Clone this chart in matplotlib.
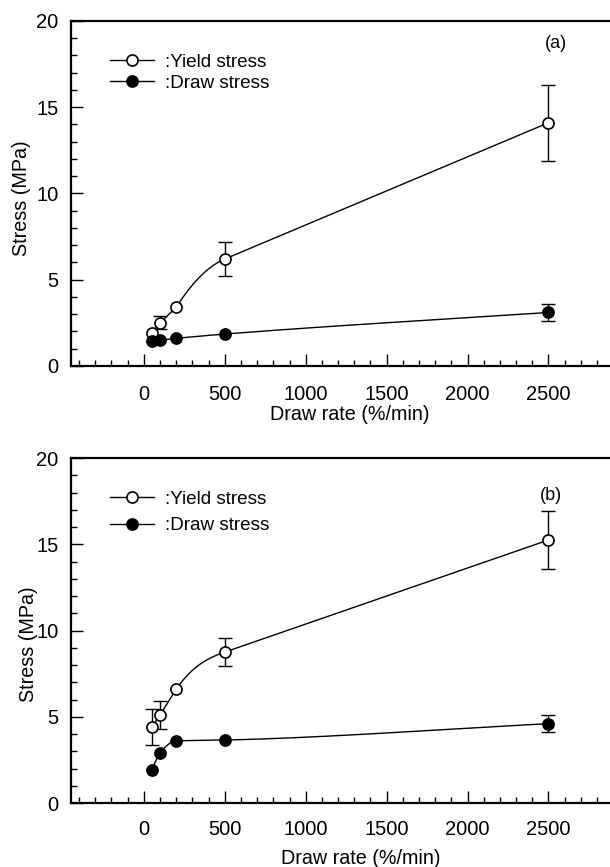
import numpy as np
import matplotlib
matplotlib.use('Agg')
import matplotlib.pyplot as plt
from matplotlib.ticker import MultipleLocator, FixedLocator
from matplotlib.lines import Line2D

plt.rcParams['font.family'] = ['Liberation Sans', 'DejaVu Sans']

# ---- data ----
draw_rate = [50, 100, 200, 500, 2500]
x_ticks = [0, 500, 1000, 1500, 2000, 2500]
y_ticks = [0, 5, 10, 15, 20]

yield_a = [1.9, 2.5, 3.4, 6.2, 14.1]
yield_a_err = [0, 0.38, 0, 1.0, 2.2]
draw_a = [1.45, 1.5, 1.6, 1.85, 3.1]
draw_a_err = [0, 0, 0, 0, 0.48]

yield_b = [4.4, 5.1, 6.6, 8.75, 15.25]
yield_b_err = [1.05, 0.8, 0, 0.8, 1.7]
draw_b = [1.92, 2.92, 3.6, 3.65, 4.6]
draw_b_err = [0, 0, 0, 0, 0.48]

legend_labels = [':Yield stress', ':Draw stress']
panel_tags = ['(a)', '(b)']
xlabel = 'Draw rate (%/min)'
ylabel = 'Stress (MPa)'


def spline_then_line(x, y, n=500):
    """Cubic spline through all but the last point (natural start, end slope
    matched to the final straight segment), then a straight segment."""
    x = np.asarray(x, float); y = np.asarray(y, float)
    xs_, ys_ = x[:-1], y[:-1]
    fp_end = (y[-1] - y[-2]) / (x[-1] - x[-2])
    k = len(xs_); h = np.diff(xs_); d = np.diff(ys_) / h
    A = np.zeros((k, k)); r = np.zeros(k)
    A[0, 0] = 1
    for i in range(1, k - 1):
        A[i, i - 1] = h[i - 1]; A[i, i] = 2 * (h[i - 1] + h[i]); A[i, i + 1] = h[i]
        r[i] = 6 * (d[i] - d[i - 1])
    A[-1, -2] = h[-1]; A[-1, -1] = 2 * h[-1]; r[-1] = 6 * (fp_end - d[-1])
    M = np.linalg.solve(A, r)
    xx = np.linspace(xs_[0], xs_[-1], n)
    idx = np.clip(np.searchsorted(xs_, xx) - 1, 0, k - 2)
    x0, x1 = xs_[idx], xs_[idx + 1]; hh = x1 - x0
    yy = (M[idx] * (x1 - xx) ** 3 / (6 * hh) + M[idx + 1] * (xx - x0) ** 3 / (6 * hh)
          + (ys_[idx] / hh - M[idx] * hh / 6) * (x1 - xx)
          + (ys_[idx + 1] / hh - M[idx + 1] * hh / 6) * (xx - x0))
    return np.append(xx, x[-1]), np.append(yy, y[-1])


def lines_quad_line(x, y, n=200):
    """Straight segments through the first points, a quadratic arc between the
    two points before the last that ends tangent to the final straight segment."""
    x = np.asarray(x, float); y = np.asarray(y, float)
    x0, x1 = x[-3], x[-2]; y0, y1 = y[-3], y[-2]
    h = x1 - x0
    m1 = (y[-1] - y[-2]) / (x[-1] - x[-2])
    m0 = 2 * (y1 - y0) / h - m1
    t = np.linspace(0, 1, n)
    xq = x0 + h * t
    yq = y0 + m0 * h * t + (m1 - m0) * h * t ** 2 / 2
    xs = np.concatenate([x[:-3], xq, x[-1:]])
    ys = np.concatenate([y[:-3], yq, y[-1:]])
    return xs, ys


def pchip(x, y, n=600):
    x = np.asarray(x, float); y = np.asarray(y, float)
    h = np.diff(x); d = np.diff(y) / h
    m = np.zeros_like(y)
    for i in range(1, len(x) - 1):
        if d[i - 1] * d[i] > 0:
            w1 = 2 * h[i] + h[i - 1]; w2 = h[i] + 2 * h[i - 1]
            m[i] = (w1 + w2) / (w1 / d[i - 1] + w2 / d[i])
    m[0] = d[0]; m[-1] = d[-1]
    xs = np.linspace(x[0], x[-1], n)
    idx = np.clip(np.searchsorted(x, xs) - 1, 0, len(x) - 2)
    t = (xs - x[idx]) / h[idx]
    h00 = 2 * t**3 - 3 * t**2 + 1; h10 = t**3 - 2 * t**2 + t
    h01 = -2 * t**3 + 3 * t**2; h11 = t**3 - t**2
    ys = h00 * y[idx] + h10 * h[idx] * m[idx] + h01 * y[idx + 1] + h11 * h[idx] * m[idx + 1]
    return xs, ys


fig = plt.figure(figsize=(6.10, 8.67), dpi=100)
W = 0.8836
axa = fig.add_axes([0.1164, 0.5779, W, 0.3979])
axb = fig.add_axes([0.1164, 0.0738, W, 0.3979])

panels = [
    (axa, yield_a, yield_a_err, draw_a, draw_a_err, 14, (-0.091, 0.487), (0.518, -0.142), (0.90, 0.936), 0.20, panel_tags[0], lines_quad_line),
    (axb, yield_b, yield_b_err, draw_b, draw_b_err, 12, (-0.078, 0.46), (0.538, -0.162), (0.89, 0.89), 0.50, panel_tags[1], spline_then_line),
]

for ax, yv, ye, dv, de, xpad, ylc, xlc, tagpos, lspace, tag, smoother in panels:
    xs, ys = smoother(draw_rate, yv)
    ax.plot(xs, ys, color='black', lw=1.0, zorder=2)
    xs2, ys2 = pchip(draw_rate, dv)
    ax.plot(xs2, ys2, color='black', lw=1.0, zorder=2)

    xr = np.asarray(draw_rate)
    for vals, errs in [(yv, ye), (dv, de)]:
        v = np.asarray(vals); e = np.asarray(errs); msk = e > 0
        ax.errorbar(xr[msk], v[msk], yerr=e[msk], fmt='none', ecolor='black',
                    elinewidth=1.0, capsize=4.7, capthick=1.0, zorder=3)

    ax.plot(draw_rate, yv, linestyle='none', marker='o', ms=8,
            mfc='white', mec='black', mew=1.2, zorder=4)
    ax.plot(draw_rate, dv, linestyle='none', marker='o', ms=8,
            mfc='black', mec='black', mew=1.2, zorder=5)

    lh1 = Line2D([], [], color='black', lw=1.0, marker='o', ms=8, mfc='white', mec='black', mew=1.2)
    lh2 = Line2D([], [], color='black', lw=1.0, marker='o', ms=8, mfc='black', mec='black', mew=1.2)
    ax.legend([lh1, lh2], legend_labels, loc='upper left', bbox_to_anchor=(0.072, 0.906),
              frameon=False, fontsize=13.6, handlelength=2.35, handletextpad=0.55,
              labelspacing=lspace, borderpad=0, borderaxespad=0)

    ax.set_xlim(-450, 2880)
    ax.set_ylim(0, 20)
    ax.xaxis.set_major_locator(FixedLocator(x_ticks))
    ax.xaxis.set_minor_locator(MultipleLocator(100))
    ax.yaxis.set_major_locator(FixedLocator(y_ticks))
    ax.yaxis.set_minor_locator(MultipleLocator(1))
    ax.tick_params(axis='both', which='both', direction='in', top=False, right=False, color='black')
    ax.tick_params(axis='both', which='major', length=8.5, width=1.0, labelsize=14.5)
    ax.tick_params(axis='both', which='minor', length=4.5, width=1.0)
    ax.tick_params(axis='x', which='major', pad=xpad)
    ax.tick_params(axis='y', which='major', pad=9)
    for s in ['left', 'bottom', 'top']:
        ax.spines[s].set_linewidth(1.6)
    ax.spines['right'].set_visible(False)

    ax.set_xlabel(xlabel, fontsize=14.2)
    ax.xaxis.set_label_coords(*xlc)
    ax.xaxis.label.set_va('center')
    ax.set_ylabel(ylabel, fontsize=14.2)
    ax.yaxis.set_label_coords(*ylc)
    ax.yaxis.label.set_va('center')

    ax.text(tagpos[0], tagpos[1], tag, transform=ax.transAxes, fontsize=13,
            ha='center', va='center')

fig.savefig('out.png', dpi=100)
